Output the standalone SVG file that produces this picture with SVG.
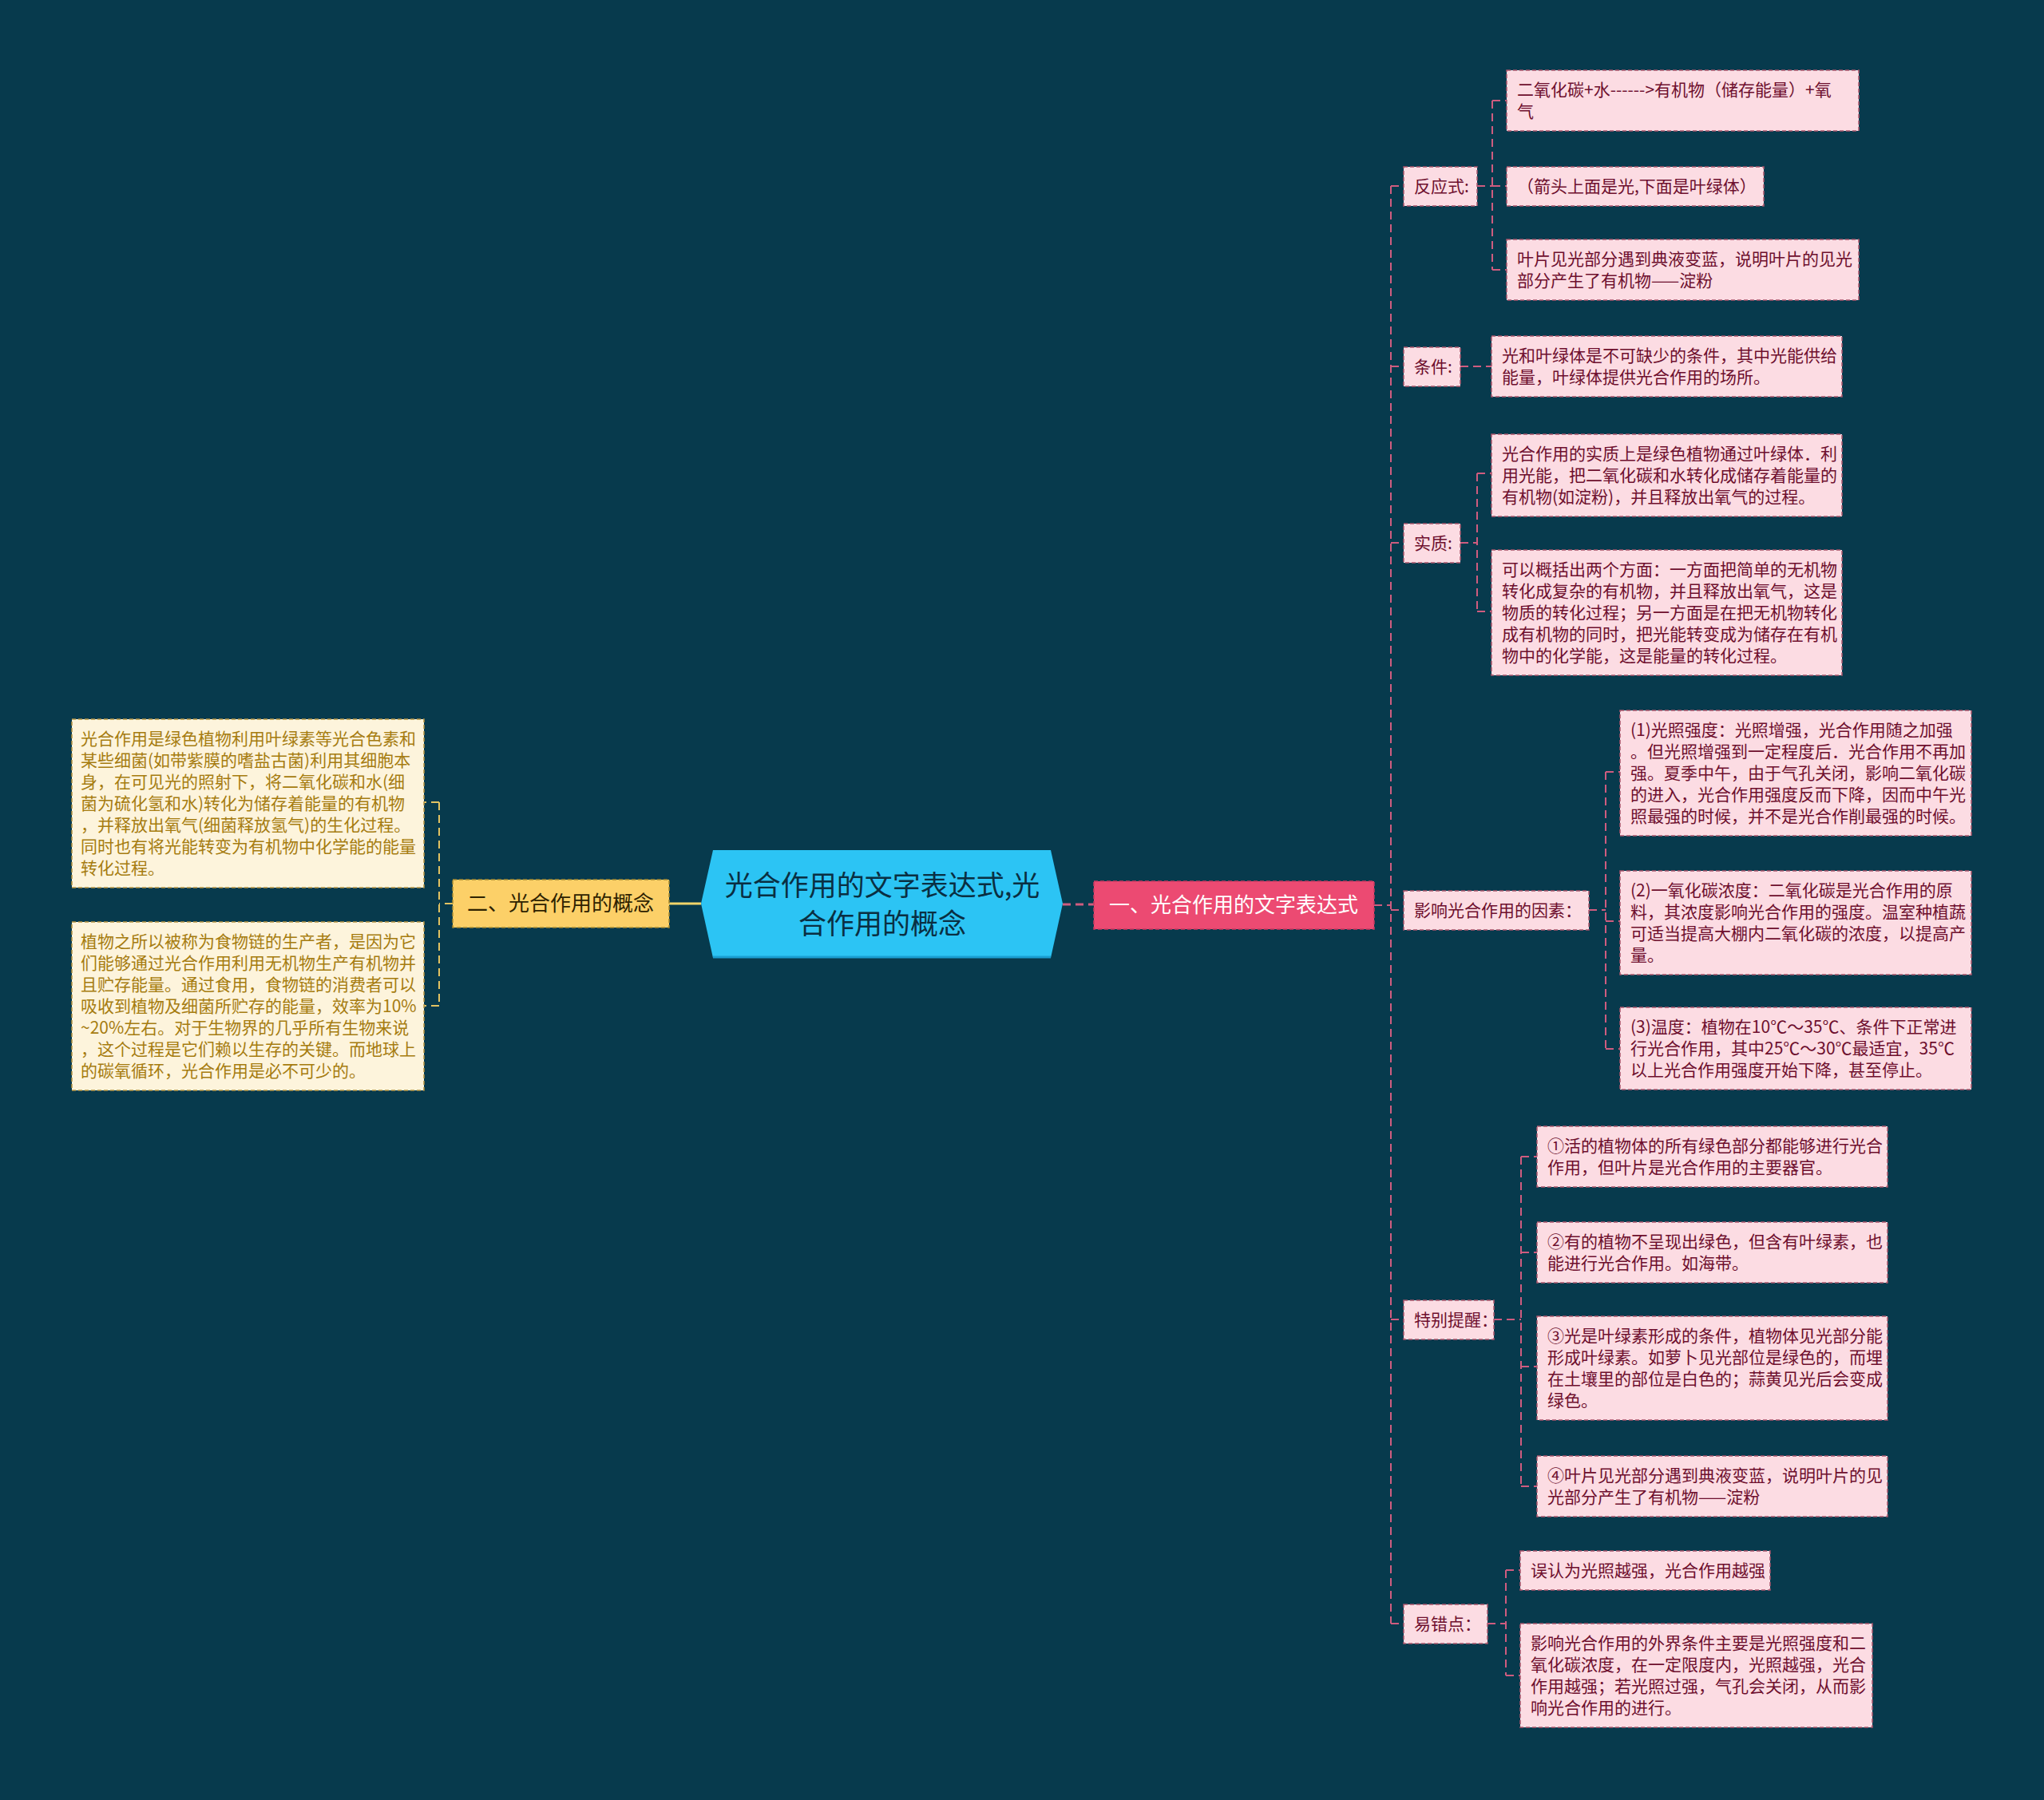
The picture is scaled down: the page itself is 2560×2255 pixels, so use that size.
<svg xmlns="http://www.w3.org/2000/svg" width="2560" height="2255" viewBox="0 0 2560 2255">
<style>
text{font-family:"Noto Sans CJK SC","Noto Sans",sans-serif;}
.pk{fill:#fcdce3;stroke:#a9566c;stroke-width:1.5;stroke-dasharray:5 3;}
.pt{fill:#6e0f2e;font-size:21px;}
.yl{fill:#fdf4dc;stroke:#b59442;stroke-width:1.5;stroke-dasharray:5 3;}
.yt{fill:#a67c10;font-size:21px;}
.cp{fill:none;stroke:#cf5c7f;stroke-width:2;stroke-dasharray:10 6;}
.cy{fill:none;stroke:#e2c262;stroke-width:2;stroke-dasharray:10 6;}
</style>
<rect x="0" y="0" width="2560" height="2255" fill="#073a4d"/>
<g id="connectors">
<line x1="838" y1="1132" x2="878" y2="1132" stroke="#f1d46a" stroke-width="3"/>
<line x1="1331" y1="1133" x2="1370" y2="1133" stroke="#cf5c7f" stroke-width="3" stroke-dasharray="10 6"/>
<path class="cp" d="M1721 1134H1742M1742 233V2034M1742 233H1758M1742 459H1758M1742 680H1758M1742 1140H1758M1742 1653H1758M1742 2034H1758"/>
<path class="cp" d="M1850 233H1869M1869 126V338M1869 126H1887M1869 233H1887M1869 338H1887"/>
<path class="cp" d="M1829 459H1868"/>
<path class="cp" d="M1829 680H1850M1850 593V766M1850 593H1868M1850 766H1868"/>
<path class="cp" d="M1990 1140H2011M2011 967V1314M2011 967H2029M2011 1154H2029M2011 1314H2029"/>
<path class="cp" d="M1871 1653H1905M1905 1449V1862M1905 1449H1925M1905 1569H1925M1905 1712H1925M1905 1862H1925"/>
<path class="cp" d="M1863 2034H1886M1886 1967V2099M1886 1967H1904M1886 2099H1904"/>
<path class="cy" d="M567 1132H550M550 1005V1260M550 1005H531M550 1260H531"/>
</g>
<g id="center">
<polygon points="878,1132 893,1065 1316,1065 1331,1132 1316,1200 893,1200" fill="#2cc4f4"/>
<line x1="893" y1="1199" x2="1316" y2="1199" stroke="#1a9ed2" stroke-width="3"/>
<text x="1105" y="1122" font-size="35" fill="#0a2f42" text-anchor="middle">光合作用的文字表达式,光</text>
<text x="1105" y="1170" font-size="35" fill="#0a2f42" text-anchor="middle">合作用的概念</text>
</g>
<g id="branch1">
<rect x="1370" y="1104" width="351" height="60" fill="#ec4a72" stroke="#c83a60" stroke-width="1.5" stroke-dasharray="5 3"/>
<text x="1545" y="1143" font-size="26" fill="#ffffff" text-anchor="middle">一、光合作用的文字表达式</text>
</g>
<g id="branch2">
<rect x="567" y="1102" width="271" height="60" fill="#fcd068" stroke="#a88a30" stroke-width="1.5" stroke-dasharray="5 3"/>
<text x="702" y="1141" font-size="26" fill="#2e2200" text-anchor="middle">二、光合作用的概念</text>
</g>
<g id="l-fanying">
<rect class="pk" x="1758" y="209" width="92" height="49"/>
<text class="pt" x="1771" y="241">反应式:</text>
</g>
<g id="l-tiaojian">
<rect class="pk" x="1758" y="435" width="71" height="49"/>
<text class="pt" x="1771" y="467">条件:</text>
</g>
<g id="l-shizhi">
<rect class="pk" x="1758" y="656" width="71" height="49"/>
<text class="pt" x="1771" y="688">实质:</text>
</g>
<g id="l-yingxiang">
<rect class="pk" x="1758" y="1116" width="232" height="49"/>
<text class="pt" x="1771" y="1148">影响光合作用的因素：</text>
</g>
<g id="l-tebie">
<rect class="pk" x="1758" y="1629" width="113" height="49"/>
<text class="pt" x="1771" y="1661">特别提醒：</text>
</g>
<g id="l-yicuo">
<rect class="pk" x="1758" y="2010" width="105" height="49"/>
<text class="pt" x="1771" y="2042">易错点：</text>
</g>
<g id="f1">
<rect class="pk" x="1887" y="88" width="441" height="76"/>
<text class="pt" x="1900" y="120">二氧化碳+水------&gt;有机物（储存能量）+氧</text>
<text class="pt" x="1900" y="147">气</text>
</g>
<g id="f2">
<rect class="pk" x="1887" y="209" width="322" height="49"/>
<text class="pt" x="1900" y="241">（箭头上面是光,下面是叶绿体）</text>
</g>
<g id="f3">
<rect class="pk" x="1887" y="300" width="441" height="76"/>
<text class="pt" x="1900" y="332">叶片见光部分遇到典液变蓝，说明叶片的见光</text>
<text class="pt" x="1900" y="359">部分产生了有机物——淀粉</text>
</g>
<g id="t1">
<rect class="pk" x="1868" y="421" width="439" height="76"/>
<text class="pt" x="1881" y="453">光和叶绿体是不可缺少的条件，其中光能供给</text>
<text class="pt" x="1881" y="480">能量，叶绿体提供光合作用的场所。</text>
</g>
<g id="s1">
<rect class="pk" x="1868" y="544" width="439" height="103"/>
<text class="pt" x="1881" y="576">光合作用的实质上是绿色植物通过叶绿体．利</text>
<text class="pt" x="1881" y="603">用光能，把二氧化碳和水转化成储存着能量的</text>
<text class="pt" x="1881" y="630">有机物(如淀粉)，并且释放出氧气的过程。</text>
</g>
<g id="s2">
<rect class="pk" x="1868" y="689" width="439" height="157"/>
<text class="pt" x="1881" y="721">可以概括出两个方面：一方面把简单的无机物</text>
<text class="pt" x="1881" y="748">转化成复杂的有机物，并且释放出氧气，这是</text>
<text class="pt" x="1881" y="775">物质的转化过程；另一方面是在把无机物转化</text>
<text class="pt" x="1881" y="802">成有机物的同时，把光能转变成为储存在有机</text>
<text class="pt" x="1881" y="829">物中的化学能，这是能量的转化过程。</text>
</g>
<g id="y1">
<rect class="pk" x="2029" y="890" width="440" height="157"/>
<text class="pt" x="2042" y="922">(1)光照强度：光照增强，光合作用随之加强</text>
<text class="pt" x="2042" y="949">。但光照增强到一定程度后．光合作用不再加</text>
<text class="pt" x="2042" y="976">强。夏季中午，由于气孔关闭，影响二氧化碳</text>
<text class="pt" x="2042" y="1003">的进入，光合作用强度反而下降，因而中午光</text>
<text class="pt" x="2042" y="1030">照最强的时候，并不是光合作削最强的时候。</text>
</g>
<g id="y2">
<rect class="pk" x="2029" y="1091" width="440" height="130"/>
<text class="pt" x="2042" y="1123">(2)一氧化碳浓度：二氧化碳是光合作用的原</text>
<text class="pt" x="2042" y="1150">料，其浓度影响光合作用的强度。温室种植蔬</text>
<text class="pt" x="2042" y="1177">可适当提高大棚内二氧化碳的浓度，以提高产</text>
<text class="pt" x="2042" y="1204">量。</text>
</g>
<g id="y3">
<rect class="pk" x="2029" y="1262" width="440" height="103"/>
<text class="pt" x="2042" y="1294">(3)温度：植物在10℃～35℃、条件下正常进</text>
<text class="pt" x="2042" y="1321">行光合作用，其中25℃～30℃最适宜，35℃</text>
<text class="pt" x="2042" y="1348">以上光合作用强度开始下降，甚至停止。</text>
</g>
<g id="b1">
<rect class="pk" x="1925" y="1411" width="439" height="76"/>
<text class="pt" x="1938" y="1443">①活的植物体的所有绿色部分都能够进行光合</text>
<text class="pt" x="1938" y="1470">作用，但叶片是光合作用的主要器官。</text>
</g>
<g id="b2">
<rect class="pk" x="1925" y="1531" width="439" height="76"/>
<text class="pt" x="1938" y="1563">②有的植物不呈现出绿色，但含有叶绿素，也</text>
<text class="pt" x="1938" y="1590">能进行光合作用。如海带。</text>
</g>
<g id="b3">
<rect class="pk" x="1925" y="1649" width="439" height="130"/>
<text class="pt" x="1938" y="1681">③光是叶绿素形成的条件，植物体见光部分能</text>
<text class="pt" x="1938" y="1708">形成叶绿素。如萝卜见光部位是绿色的，而埋</text>
<text class="pt" x="1938" y="1735">在土壤里的部位是白色的；蒜黄见光后会变成</text>
<text class="pt" x="1938" y="1762">绿色。</text>
</g>
<g id="b4">
<rect class="pk" x="1925" y="1824" width="439" height="76"/>
<text class="pt" x="1938" y="1856">④叶片见光部分遇到典液变蓝，说明叶片的见</text>
<text class="pt" x="1938" y="1883">光部分产生了有机物——淀粉</text>
</g>
<g id="e1">
<rect class="pk" x="1904" y="1943" width="313" height="49"/>
<text class="pt" x="1917" y="1975">误认为光照越强，光合作用越强</text>
</g>
<g id="e2">
<rect class="pk" x="1904" y="2034" width="441" height="130"/>
<text class="pt" x="1917" y="2066">影响光合作用的外界条件主要是光照强度和二</text>
<text class="pt" x="1917" y="2093">氧化碳浓度，在一定限度内，光照越强，光合</text>
<text class="pt" x="1917" y="2120">作用越强；若光照过强，气孔会关闭，从而影</text>
<text class="pt" x="1917" y="2147">响光合作用的进行。</text>
</g>
<g id="g1">
<rect class="yl" x="90" y="901" width="441" height="211"/>
<text class="yt" x="101" y="933">光合作用是绿色植物利用叶绿素等光合色素和</text>
<text class="yt" x="101" y="960">某些细菌(如带紫膜的嗜盐古菌)利用其细胞本</text>
<text class="yt" x="101" y="987">身，在可见光的照射下，将二氧化碳和水(细</text>
<text class="yt" x="101" y="1014">菌为硫化氢和水)转化为储存着能量的有机物</text>
<text class="yt" x="101" y="1041">，并释放出氧气(细菌释放氢气)的生化过程。</text>
<text class="yt" x="101" y="1068">同时也有将光能转变为有机物中化学能的能量</text>
<text class="yt" x="101" y="1095">转化过程。</text>
</g>
<g id="g2">
<rect class="yl" x="90" y="1155" width="441" height="211"/>
<text class="yt" x="101" y="1187">植物之所以被称为食物链的生产者，是因为它</text>
<text class="yt" x="101" y="1214">们能够通过光合作用利用无机物生产有机物并</text>
<text class="yt" x="101" y="1241">且贮存能量。通过食用，食物链的消费者可以</text>
<text class="yt" x="101" y="1268">吸收到植物及细菌所贮存的能量，效率为10%</text>
<text class="yt" x="101" y="1295">~20%左右。对于生物界的几乎所有生物来说</text>
<text class="yt" x="101" y="1322">，这个过程是它们赖以生存的关键。而地球上</text>
<text class="yt" x="101" y="1349">的碳氧循环，光合作用是必不可少的。</text>
</g>
</svg>
